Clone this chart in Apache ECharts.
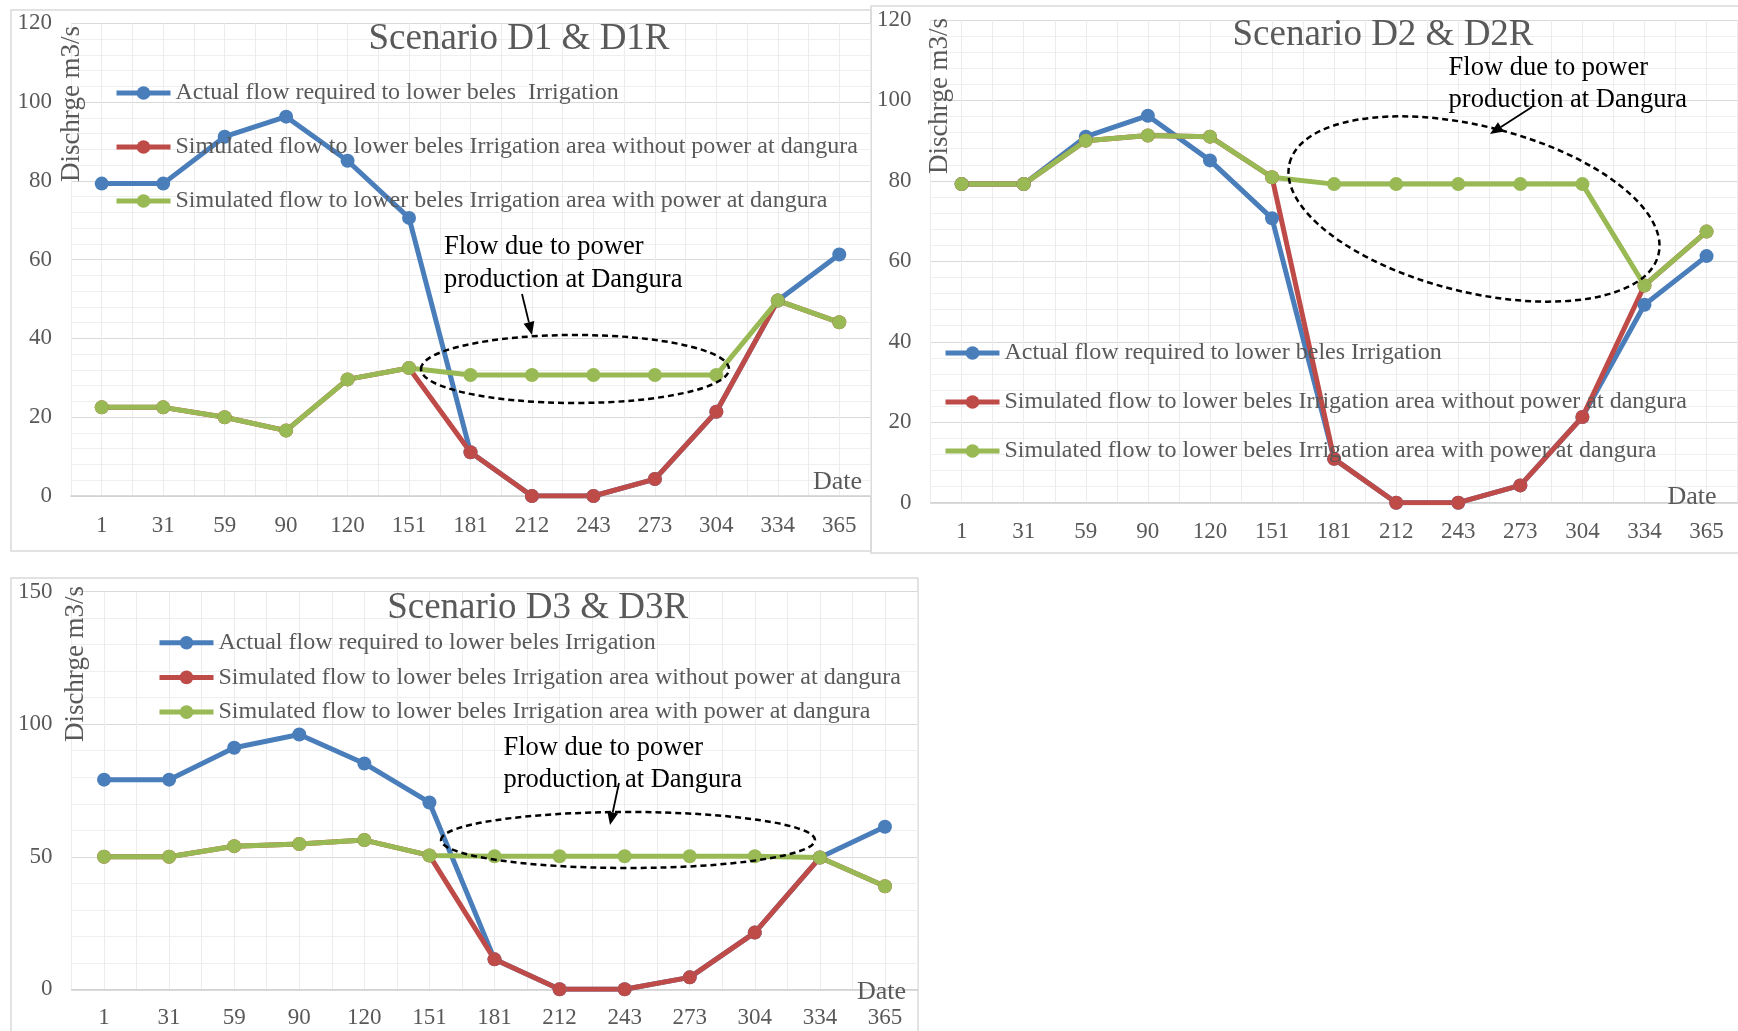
<!DOCTYPE html>
<html><head><meta charset="utf-8">
<script src="https://cdn.jsdelivr.net/npm/echarts@6/dist/echarts.min.js"></script>
<style>html,body{margin:0;padding:0;background:#fff}#c{width:1738px;height:1031px}</style>
</head><body><div id="c"></div><script>
// ---------- data ----------
const days = ['1','31','59','90','120','151','181','212','243','273','304','334','365'];
const nameActualD1 = 'Actual flow required to lower beles  Irrigation';
const nameActual = 'Actual flow required to lower beles Irrigation';
const nameWithout = 'Simulated flow to lower beles Irrigation area without power at dangura';
const nameWith = 'Simulated flow to lower beles Irrigation area with power at dangura';
const titles = ['Scenario D1 & D1R', 'Scenario D2 & D2R', 'Scenario D3 & D3R'];
const yAxisName = 'Dischrge m3/s';
const xAxisName = 'Date';
const noteText = 'Flow due to power\nproduction at Dangura';

const actualD1  = [79.3, 79.3, 91.2, 96.3, 85.1, 70.6, 11.1, 0, 0, 4.3, 21.4, 49.6, 61.3];
const withoutD1 = [22.5, 22.5, 20.0, 16.6, 29.6, 32.5, 11.1, 0, 0, 4.3, 21.4, 49.6, 44.1];
const withD1    = [22.5, 22.5, 20.0, 16.6, 29.6, 32.5, 30.7, 30.7, 30.7, 30.7, 30.7, 49.6, 44.1];

const actualD2  = [79.2, 79.2, 91.0, 96.2, 85.1, 70.7, 10.9, 0, 0, 4.3, 21.3, 49.2, 61.3];
const withoutD2 = [79.2, 79.2, 90.0, 91.3, 91.0, 80.9, 10.9, 0, 0, 4.3, 21.3, 54.0, 67.4];
const withD2    = [79.2, 79.2, 90.0, 91.3, 91.0, 80.9, 79.2, 79.2, 79.2, 79.2, 79.2, 54.0, 67.4];

const actualD3  = [79.1, 79.1, 91.1, 96.1, 85.2, 70.5, 11.3, 0, 0, 4.5, 21.4, 49.7, 61.3];
const withoutD3 = [50.0, 50.0, 54.0, 54.8, 56.3, 50.5, 11.3, 0, 0, 4.5, 21.4, 49.7, 38.9];
const withD3    = [50.0, 50.0, 54.0, 54.8, 56.3, 50.5, 50.2, 50.2, 50.2, 50.2, 50.2, 49.7, 38.9];

const yRanges = [[0, 120, 20], [0, 120, 20], [0, 150, 50]];

// ---------- styles ----------
const FONT = "'Liberation Serif', 'Times New Roman', serif";
const GREY = '#595959';
const BLUE = '#4a7ebb', RED = '#be4b48', GREEN = '#98b954';

const grids = [
  {left: 71, top: 23.3, width: 799, height: 472.7},
  {left: 930.6, top: 20, width: 807, height: 482.7},
  {left: 71.5, top: 591.7, width: 846, height: 397.6}
];
const labelMargins = [18, 17.5, 17];

const halfBands = Array.from({length: 27}, () => '');

const xAxes = [], yAxes = [];
grids.forEach((g, i) => {
  xAxes.push({
    type: 'category', gridIndex: i, data: days, boundaryGap: true,
    axisLine: {show: true, lineStyle: {color: '#d0d0d0', width: 1.5}},
    axisTick: {show: false},
    splitLine: {show: false},
    axisLabel: {color: GREY, fontFamily: FONT, fontSize: 23, margin: labelMargins[i], interval: 0}
  });
  xAxes.push({
    type: 'category', gridIndex: i, data: halfBands, boundaryGap: false, position: 'top',
    axisLine: {show: false}, axisTick: {show: false, interval: 0}, axisLabel: {show: false, interval: 0},
    splitLine: {show: true, interval: 0, lineStyle: {color: '#ececec', width: 1}}
  });
  const r = yRanges[i];
  yAxes.push({
    type: 'value', gridIndex: i, min: r[0], max: r[1], interval: r[2],
    axisLine: {show: false}, axisTick: {show: false},
    axisLabel: {color: GREY, fontFamily: FONT, fontSize: 23, margin: 19},
    splitLine: {show: true, lineStyle: {color: '#d9d9d9', width: 1.2}},
    minorTick: {show: false, splitNumber: 5},
    minorSplitLine: {show: true, lineStyle: {color: '#efefef', width: 1}}
  });
});

function mkSeries(name, data, color, gi) {
  return {
    type: 'line', name: name, data: data,
    xAxisIndex: gi * 2, yAxisIndex: gi,
    symbol: 'circle', symbolSize: 14,
    lineStyle: {color: color, width: 5},
    itemStyle: {color: color},
    emphasis: {disabled: true}, animation: false
  };
}
const series = [
  mkSeries(nameActualD1, actualD1, BLUE, 0),
  mkSeries(nameWithout, withoutD1, RED, 0),
  mkSeries(nameWith, withD1, GREEN, 0),
  mkSeries(nameActual, actualD2, BLUE, 1),
  mkSeries(nameWithout, withoutD2, RED, 1),
  mkSeries(nameWith, withD2, GREEN, 1),
  mkSeries(nameActual, actualD3, BLUE, 2),
  mkSeries(nameWithout, withoutD3, RED, 2),
  mkSeries(nameWith, withD3, GREEN, 2)
];

function mkLegend(names, left, top, gap) {
  return {
    data: names, orient: 'vertical', left: left, top: top, padding: 0,
    itemGap: gap, itemWidth: 54, itemHeight: 17, selectedMode: false,
    lineStyle: {width: 5},
    textStyle: {color: GREY, fontFamily: FONT, fontSize: 24, lineHeight: 24}
  };
}
const legends = [
  mkLegend([nameActualD1, nameWithout, nameWith], 114, 81, 30),
  mkLegend([nameActual, nameWithout, nameWith], 943, 341, 25),
  mkLegend([nameActual, nameWithout, nameWith], 157, 630.7, 10.7)
];

// ---------- decorations ----------
const graphics = [];
function rect(x, y, w, h) {
  graphics.push({type: 'rect', shape: {x: x, y: y, width: w, height: h}, z: 0,
    style: {fill: null, stroke: '#d9d9d9', lineWidth: 1.5}, silent: true});
}
function txt(s, x, y, size, color, align, rot) {
  graphics.push({type: 'text', x: x, y: y, rotation: rot || 0, z: 10, silent: true,
    style: {text: s, font: size + 'px ' + FONT, fill: color, align: align || 'center', verticalAlign: 'middle'}});
}
function note(x, y, lh) {
  graphics.push({type: 'text', x: x, y: y, z: 10, silent: true,
    style: {text: noteText, font: '26.5px ' + FONT, fill: '#000', align: 'left', verticalAlign: 'top', lineHeight: lh}});
}
function ellipse(cx, cy, rx, ry, rot) {
  graphics.push({type: 'ellipse', x: cx, y: cy, rotation: rot || 0, z: 10, silent: true,
    shape: {cx: 0, cy: 0, rx: rx, ry: ry},
    style: {fill: null, stroke: '#000', lineWidth: 2.5, lineDash: [6, 4]}});
}
function arrow(x1, y1, x2, y2) {
  const dx = x2 - x1, dy = y2 - y1, L = Math.hypot(dx, dy), ux = dx / L, uy = dy / L;
  const hl = 13, hw = 5.5;
  const bx = x2 - ux * hl, by = y2 - uy * hl;
  graphics.push({type: 'line', z: 10, silent: true, shape: {x1: x1, y1: y1, x2: bx, y2: by},
    style: {stroke: '#000', lineWidth: 1.8}});
  graphics.push({type: 'polygon', z: 10, silent: true,
    shape: {points: [[x2, y2], [bx - uy * hw, by + ux * hw], [bx + uy * hw, by - ux * hw]]},
    style: {fill: '#000'}});
}

rect(11, 10, 860, 541);
rect(871, 6, 880, 547);
rect(11, 578, 907, 470);

txt(titles[0], 519, 39.5, 37, GREY);
txt(titles[1], 1383, 35.5, 37, GREY);
txt(titles[2], 537.7, 608, 37, GREY);

txt(yAxisName, 72, 104, 27, GREY, 'center', Math.PI / 2);
txt(yAxisName, 940, 96, 27, GREY, 'center', Math.PI / 2);
txt(yAxisName, 76, 664, 27, GREY, 'center', Math.PI / 2);

txt(xAxisName, 837.5, 482, 26, GREY);
txt(xAxisName, 1692, 497, 26, GREY);
txt(xAxisName, 881.5, 991.7, 26, GREY);

note(444, 230.5, 33);
arrow(522, 294, 532, 335);
ellipse(575, 369, 154, 34, 0);

note(1448.6, 52, 32);
arrow(1532, 107, 1490, 134);
ellipse(1474, 209, 190, 83, -0.243);

note(503.5, 732, 32);
arrow(619, 783, 610, 825);
ellipse(628, 840, 187, 28, 0);

const chart = echarts.init(document.getElementById('c'), null, {renderer: 'canvas'});
chart.setOption({
  backgroundColor: '#fff',
  animation: false,
  grid: grids,
  xAxis: xAxes,
  yAxis: yAxes,
  legend: legends,
  series: series,
  graphic: graphics
});
</script></body></html>
